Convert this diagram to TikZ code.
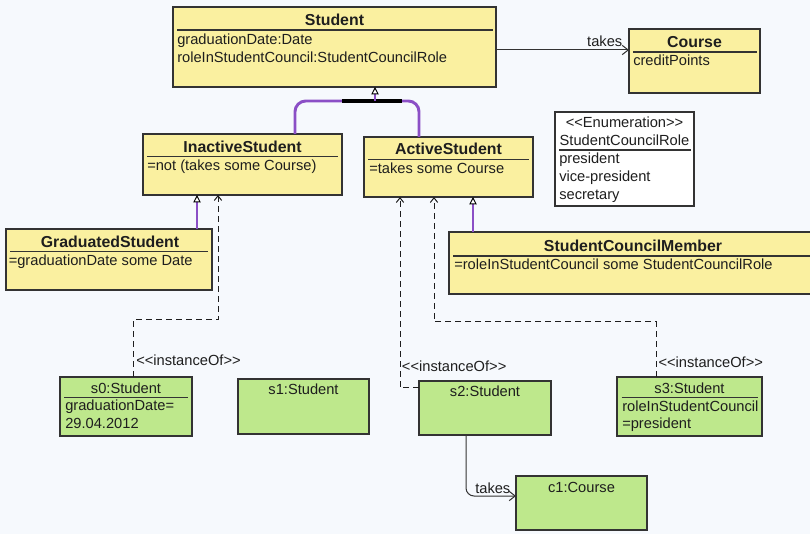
\documentclass[tikz,border=0pt]{standalone}
\usepackage{fontspec}
\setmainfont{Liberation Sans}
\usetikzlibrary{arrows.meta,calc}

\definecolor{bg}{HTML}{F6F9FD}
\definecolor{clsfill}{HTML}{FAF0A0}
\definecolor{objfill}{HTML}{BEE88C}
\definecolor{edge}{HTML}{333333}
\definecolor{genline}{HTML}{8B4FC6}
\definecolor{ink}{HTML}{1E1E1E}

% guillemet-free angle brackets (tex-text would turn << into a guillemet)
\newcommand\oplt{<\kern0pt<}
\newcommand\opgt{>\kern0pt>}

\tikzset{
  box/.style={rectangle, draw=edge, line width=0.9pt, anchor=north west, inner sep=0pt, outer sep=0pt},
  sz/.style 2 args={minimum width=#1*0.75pt, minimum height=#2*0.75pt},
  cls/.style={box, fill=clsfill},
  obj/.style={box, fill=objfill},
  enumbox/.style={box, fill=white},
  ttl/.style={inner sep=0pt, anchor=base, text=ink, font=\bfseries\fontsize{11.9}{14}\selectfont},
  otl/.style={inner sep=0pt, anchor=base, text=ink, font=\fontsize{11}{13}\selectfont},
  txt/.style={inner sep=0pt, anchor=base west, text=ink, font=\fontsize{11}{13}\selectfont},
  sepline/.style={draw=edge, line width=1pt},
  assoc/.style={draw=edge, line width=0.75pt, -{Straight Barb[length=4.5pt,width=7pt,line width=0.75pt]}},
  dep/.style={draw=ink, line width=0.75pt, dash pattern=on 4.5pt off 3pt, -{Straight Barb[length=3.5pt,width=5.5pt,line width=0.75pt]}},
  genl/.style={draw=genline, line width=2.2pt},
  gentip/.style={-{Triangle[length=5.5pt,width=5.5pt,color=black,fill=white,line width=0.7pt]}},
}

\begin{document}
\begin{tikzpicture}[x=0.75pt,y=-0.75pt]
  \fill[bg] (0,0) rectangle (810,534);
  \useasboundingbox (0,0) rectangle (810,534);

  % ---------- classes ----------
  \node[cls, sz={323}{80}] (stud) at (173,7) {};
  \node[ttl] (studT) at (334.5,25.5) {Student};
  \draw[sepline] (177,30) -- (493,30);
  \node[txt] (studA1) at (177,45) {graduationDate:Date};
  \node[txt] (studA2) at (177,62.5) {roleInStudentCouncil:StudentCouncilRole};

  \node[cls, sz={131}{64}] (course) at (629,29) {};
  \node[ttl] (courseT) at (694.5,47.3) {Course};
  \draw[sepline] (633,52) -- (757,52);
  \node[txt] (courseA1) at (633,65.7) {creditPoints};

  \node[cls, sz={199}{61}] (inact) at (143,134) {};
  \node[ttl] (inactT) at (242.5,152.7) {InactiveStudent};
  \draw[sepline] (147,156.7) -- (338,156.7);
  \node[txt] (inactA1) at (147,171) {=not (takes some Course)};

  \node[cls, sz={169}{60}] (act) at (364,137) {};
  \node[ttl] (actT) at (448.5,154.5) {ActiveStudent};
  \draw[sepline] (368,159.5) -- (529,159.5);
  \node[txt] (actA1) at (369,173.5) {=takes some Course};

  \node[cls, sz={206}{61}] (grad) at (6,229) {};
  \node[ttl] (gradT) at (110,247.7) {GraduatedStudent};
  \draw[sepline] (10,251.7) -- (208,251.7);
  \node[txt] (gradA1) at (8.5,265.7) {=graduationDate some Date};

  \node[cls, sz={366}{62}] (scm) at (449,232) {};
  \node[ttl] (scmT) at (633,251.7) {StudentCouncilMember};
  \draw[sepline] (453,256) -- (812,256);
  \node[txt] (scmA1) at (454,270) {=roleInStudentCouncil some StudentCouncilRole};

  % ---------- enumeration ----------
  \node[enumbox, sz={139}{94}] (enum) at (555,112) {};
  \node[otl] (enumS) at (624.5,127.7) {\oplt Enumeration\opgt};
  \node[otl] (enumT) at (624.5,146) {StudentCouncilRole};
  \draw[sepline] (559,150) -- (691,150);
  \node[txt] (enumL1) at (559,163.3) {president};
  \node[txt] (enumL2) at (559,181.7) {vice-president};
  \node[txt] (enumL3) at (559,199.3) {secretary};

  % ---------- objects ----------
  \node[obj, sz={132}{59}] (s0) at (60,377) {};
  \node[otl] (s0T) at (126,393.3) {s0:Student};
  \draw[sepline] (64,397.7) -- (188,397.7);
  \node[txt] (s0A1) at (65,410.7) {graduationDate=};
  \node[txt] (s0A2) at (65,428.3) {29.04.2012};

  \node[obj, sz={131}{55}] (s1) at (238,379) {};
  \node[otl] (s1T) at (303.5,395) {s1:Student};

  \node[obj, sz={132}{54}] (s2) at (419,381) {};
  \node[otl] (s2T) at (485,396.7) {s2:Student};

  \node[obj, sz={145}{59}] (s3) at (617,377) {};
  \node[otl] (s3T) at (689.5,393.3) {s3:Student};
  \draw[sepline] (621.5,397.7) -- (758,397.7);
  \node[txt] (s3A1) at (622,411.7) {roleInStudentCouncil};
  \node[txt] (s3A2) at (622,428.3) {=president};

  \node[obj, sz={131}{54}] (c1) at (516,476) {};
  \node[otl] (c1T) at (581.5,492.7) {c1:Course};

  % ---------- associations ----------
  \coordinate (ta) at (0,50);
  \draw[assoc] (stud.east |- ta) -- (course.west |- ta);
  \node[txt, anchor=base east] (takesA) at (622.5,46.7) {takes};

  \coordinate (tb) at (466,496);
  \draw[assoc, rounded corners=6pt] (s2.south -| tb) |- (c1.west |- tb);
  \node[txt] (takesB) at (475,493.3) {takes};

  % ---------- generalization tree ----------
  \coordinate (gbar) at (375,101);
  \draw[genl, rounded corners=8pt] ($(inact.north west)+(152,0)$) |- (gbar) -| ($(act.north west)+(55,0)$);
  \draw[black, line width=2.4pt] ($(gbar)+(-33,0)$) -- ($(gbar)+(27,0)$);
  \draw[genl, gentip] (gbar) -- (stud.south -| gbar);

  \coordinate (g2) at ($(grad.north west)+(191,0)$);
  \draw[genl, gentip] (g2) -- (inact.south -| g2);

  \coordinate (g3) at ($(scm.north west)+(24,0)$);
  \draw[genl, gentip] (g3) -- (act.south -| g3);

  % ---------- instanceOf dependencies ----------
  \coordinate (d0a) at (133,320);
  \coordinate (d0b) at (218,320);
  \draw[dep] (s0.north -| d0a) -- (d0a) -- (d0b) -- (inact.south -| d0b);
  \node[txt] (io0) at (136,366) {\oplt instanceOf\opgt};

  \coordinate (d2) at (400,388);
  \draw[dep] (s2.west |- d2) -- (d2) -- (act.south -| d2);
  \node[txt] (io2) at (401.7,371.7) {\oplt instanceOf\opgt};

  \coordinate (d3a) at (656,322);
  \coordinate (d3b) at (434,322);
  \draw[dep] (s3.north -| d3a) -- (d3a) -- (d3b) -- (act.south -| d3b);
  \node[txt] (io3) at (658.3,367.3) {\oplt instanceOf\opgt};
\end{tikzpicture}
\end{document}
